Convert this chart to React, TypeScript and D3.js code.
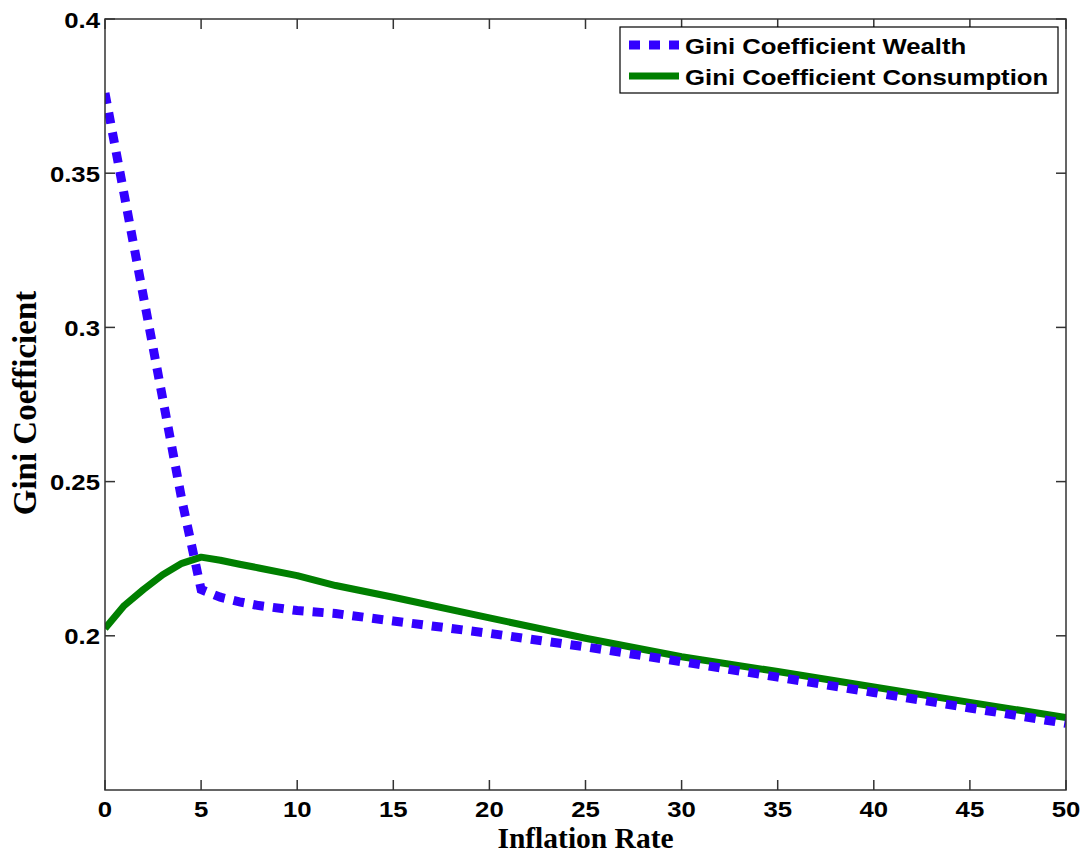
import React from "react";
import * as d3 from "d3";

const inflation = [0, 1, 2, 3, 4, 5, 6, 7, 8, 10, 12, 15, 20, 25, 30, 35, 40, 45, 50];
const giniWealth = [0.376, 0.343, 0.31, 0.277, 0.244, 0.215, 0.2125, 0.211, 0.2098, 0.2082, 0.2072, 0.2048, 0.2008, 0.1964, 0.1916, 0.1866, 0.1816, 0.1766, 0.1716];
const giniConsumption = [0.2024, 0.2098, 0.215, 0.2198, 0.2235, 0.2255, 0.2245, 0.2232, 0.222, 0.2195, 0.2163, 0.2125, 0.2058, 0.1992, 0.1932, 0.1884, 0.1834, 0.1784, 0.1735];
const xTicks = [0, 5, 10, 15, 20, 25, 30, 35, 40, 45, 50];
const yTicks = [0.2, 0.25, 0.3, 0.35, 0.4];
const seriesNames = ["Gini Coefficient Wealth", "Gini Coefficient Consumption"];

const W = 1086, H = 856;
const L = 105, R = 1066, T = 19, B = 790;
const sans = "'Liberation Sans', Arial, sans-serif";
const serif = "'Liberation Serif', 'Times New Roman', serif";

function SText(props: { x: number; y: number; anchor?: string; size: number; children: React.ReactNode }) {
  return (
    <text
      transform={`translate(${props.x},${props.y}) scale(1.12,1)`}
      textAnchor={props.anchor || "start"}
      fontFamily={sans}
      fontWeight="bold"
      fontSize={props.size}
      fill="#000"
    >
      {props.children}
    </text>
  );
}

export default function App() {
  const x = d3.scaleLinear().domain([0, 50]).range([L, R]);
  const y = d3.scaleLinear().domain([0.15, 0.4]).range([B, T]);
  const line = d3.line<number>().x((_, i) => x(inflation[i])).y((d) => y(d));
  const axisColor = "#333";
  const tickLen = 10;
  return (
    <svg width={W} height={H} style={{ position: "absolute", left: 0, top: 0, background: "#fff" }}>
      <rect x={0} y={0} width={W} height={H} fill="#fff" />
      <defs>
        <clipPath id="plot">
          <rect x={L} y={T} width={R - L} height={B - T} />
        </clipPath>
      </defs>
      <g clipPath="url(#plot)">
        <path d={line(giniConsumption) || ""} fill="none" stroke="#007f00" strokeWidth={7} strokeLinejoin="round" />
        <path d={line(giniWealth) || ""} fill="none" stroke="#3300ff" strokeWidth={9} strokeDasharray="11 9" />
      </g>
      <rect x={L} y={T} width={R - L} height={B - T} fill="none" stroke={axisColor} strokeWidth={1.5} />
      {xTicks.map((t) => (
        <g key={"x" + t}>
          <line x1={x(t)} x2={x(t)} y1={B} y2={B - tickLen} stroke={axisColor} strokeWidth={1.5} />
          <line x1={x(t)} x2={x(t)} y1={T} y2={T + tickLen} stroke={axisColor} strokeWidth={1.5} />
          <SText x={x(t)} y={817} anchor="middle" size={23}>{t}</SText>
        </g>
      ))}
      {yTicks.map((t) => (
        <g key={"y" + t}>
          <line x1={L} x2={L + tickLen} y1={y(t)} y2={y(t)} stroke={axisColor} strokeWidth={1.5} />
          <line x1={R} x2={R - tickLen} y1={y(t)} y2={y(t)} stroke={axisColor} strokeWidth={1.5} />
          <SText x={100} y={y(t) + 8.5} anchor="end" size={23}>{String(t)}</SText>
        </g>
      ))}
      <text x={(L + R) / 2} y={848} textAnchor="middle" fontFamily={serif} fontWeight="bold" fontSize={29.5} fill="#000">
        Inflation Rate
      </text>
      <text transform={`translate(36, 403) rotate(-90)`} textAnchor="middle" fontFamily={serif} fontWeight="bold" fontSize={33} fill="#000">
        Gini Coefficient
      </text>
      <g>
        <rect x={620} y={27} width={438} height={66} fill="#fff" stroke="#000" strokeWidth={1.2} />
        <line x1={629} x2={679} y1={45} y2={45} stroke="#3300ff" strokeWidth={9} strokeDasharray="11 9" />
        <line x1={629} x2={679} y1={76} y2={76} stroke="#007f00" strokeWidth={7} />
        <SText x={685} y={53.5} size={23}>{seriesNames[0]}</SText>
        <SText x={685} y={84.5} size={23}>{seriesNames[1]}</SText>
      </g>
    </svg>
  );
}
